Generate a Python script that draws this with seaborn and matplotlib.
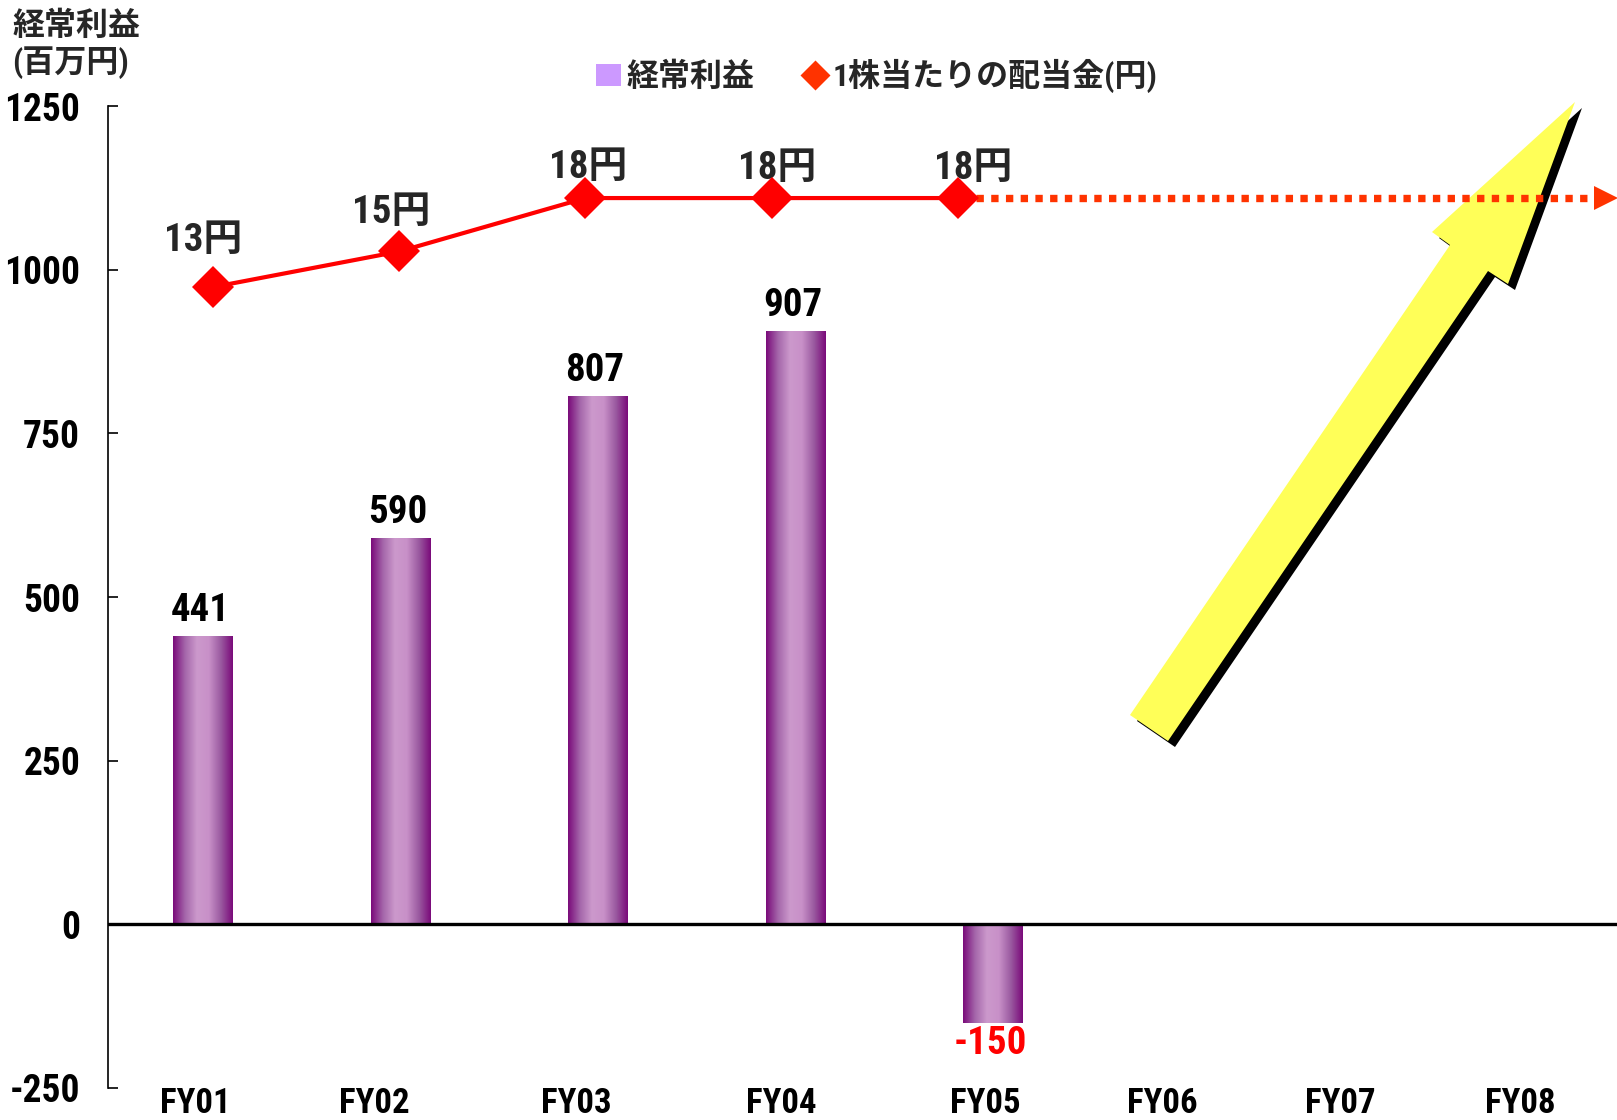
import numpy as np
import pandas as pd
import matplotlib
matplotlib.use('Agg')
import matplotlib.pyplot as plt
import seaborn as sns
from matplotlib import font_manager as fm
from matplotlib.colors import LinearSegmentedColormap
from matplotlib.patches import Polygon, Patch
from matplotlib.lines import Line2D

# data
years = ['FY01', 'FY02', 'FY03', 'FY04', 'FY05', 'FY06', 'FY07', 'FY08']
profit = [441, 590, 807, 907, -150]          # 経常利益 (百万円)
dividend = [13, 15, 18, 18, 18]              # 1株当たりの配当金 (円)
profit_ticks = [-250, 0, 250, 500, 750, 1000, 1250]

sns.set_theme(style='white')

# narrow latin font if one is installed, CJK font for the kanji
installed = {f.name for f in fm.fontManager.ttflist}
narrow = [n for n in ['Liberation Sans Narrow', 'Roboto Condensed',
                      'DejaVu Sans Condensed', 'Open Sans Condensed']
          if n in installed]
FONT = narrow[:1] + ['Noto Sans CJK JP', 'DejaVu Sans']
plt.rcParams['font.family'] = FONT
plt.rcParams['font.weight'] = 'bold'

W, H = 1617, 1120
fig = plt.figure(figsize=(W / 100, H / 100), dpi=100)
rect = [108 / W, 32 / H, 1509 / W, 982 / H]
ax = fig.add_axes(rect)

# --- bars ---
df = pd.DataFrame({'year': years[:len(profit)], 'profit': profit})
sns.barplot(data=df, x='year', y='profit', order=years, width=0.30,
            color='#B07AB8', saturation=1, ax=ax, zorder=2)

bar_cmap = LinearSegmentedColormap.from_list(
    'bar', ['#7A0A7A', '#A466AA', '#CC99CC', '#C890C8', '#9A5AA0', '#7A0A7A'])
grad = np.linspace(0, 1, 256).reshape(1, -1)
for p in ax.patches:
    x0, y0, w, h = p.get_x(), p.get_y(), p.get_width(), p.get_height()
    im = ax.imshow(grad, cmap=bar_cmap, aspect='auto',
                   extent=[x0, x0 + w, y0, y0 + h], zorder=2)
    im.set_clip_path(p)
    p.set_facecolor('none')
    p.set_edgecolor('none')

ax.axhline(0, color='black', lw=2.4, zorder=3)

for i, v in enumerate(profit):
    ax.annotate(f'{v}', xy=(i, v), xytext=(-3, 7 if v >= 0 else -2),
                textcoords='offset pixels', ha='center',
                va='bottom' if v >= 0 else 'top', fontsize=28,
                fontweight='bold', color='black' if v >= 0 else '#FF0000')

ax.set_xlim(-0.48, 7.16)
ax.set_ylim(-250, 1250)
ax.set_yticks(profit_ticks)
ax.set_yticklabels([str(t) for t in profit_ticks])
label_pos = [-0.04, 0.87, 1.89, 2.93, 3.96, 4.86, 5.76, 6.67]
ax.set_xticks(label_pos)
ax.set_xticklabels(years)
ax.set_xlabel('')
ax.set_ylabel('')
for s in ['top', 'right', 'bottom']:
    ax.spines[s].set_visible(False)
ax.spines['left'].set_color('black')
ax.spines['left'].set_linewidth(1.2)
ax.tick_params(axis='y', direction='in', length=7, width=1.2, color='black',
               labelsize=27, pad=20, left=True)
ax.tick_params(axis='x', length=0, labelsize=25, pad=-1)
for lab in ax.get_xticklabels() + ax.get_yticklabels():
    lab.set_fontweight('bold')
    lab.set_color('black')

# --- dividend line on its own hidden axes ---
ax2 = fig.add_axes(rect, label='dividend')
ax2.set_axis_off()
ax2.patch.set_alpha(0)
ax2.set_xlim(-0.564, 7.54)
ax2.set_ylim(-31.98, 23.17)

sns.lineplot(x=list(range(len(dividend))), y=dividend, ax=ax2, color='#FF0000',
             lw=3, marker='D', markersize=21, markeredgewidth=0, zorder=4)

div_offsets = [(-10, 47), (-8, 39), (3, 31), (5, 30), (15, 30)]
for i, (v, off) in enumerate(zip(dividend, div_offsets)):
    ax2.annotate(f'{v}円', xy=(i, v), xytext=off, textcoords='offset pixels',
                 ha='center', va='center', fontsize=28, fontweight='bold')

# projection beyond FY05
last = len(dividend) - 1
ax2.plot([last + 0.098, 7.422], [dividend[-1]] * 2, color='#FF3300', lw=5.3,
         ls=(0, (1, 1)), dash_capstyle='butt', clip_on=False, zorder=3)
ax2.plot([7.481], [dividend[-1]], marker='>', color='#FF3300', markersize=17,
         markeredgewidth=0, clip_on=False, zorder=3)

# big yellow growth arrow (decoration, figure pixels)
arrow_px = [(1130, 715), (1450, 245), (1432, 232), (1575, 102),
            (1508, 284), (1488, 271), (1168, 741)]
shadow = Polygon([((x + 7) / W, 1 - (y + 6) / H) for x, y in arrow_px],
                 closed=True, transform=fig.transFigure, facecolor='black',
                 edgecolor='none', zorder=1, clip_on=False)
arrow = Polygon([(x / W, 1 - y / H) for x, y in arrow_px], closed=True,
                transform=fig.transFigure, facecolor='#FFFF58',
                edgecolor='none', zorder=2, clip_on=False)
ax2.add_artist(shadow)
ax2.add_artist(arrow)

# legend and axis title
handles = [Patch(facecolor='#CC99FF', edgecolor='none', label='経常利益'),
           Line2D([], [], color='none', marker='D', markerfacecolor='#FF3300',
                  markeredgecolor='none', markersize=15,
                  label='1株当たりの配当金(円)')]
fig.legend(handles=handles, ncol=2, loc='center', bbox_to_anchor=(0.542, 0.932),
           frameon=False, prop={'size': 23, 'weight': 'bold'},
           handlelength=0.8, handletextpad=0.15, columnspacing=1.5)

fig.text(12 / W, 1 - 11 / H, '経常利益\n(百万円)', ha='left', va='top',
         fontsize=23, fontweight='bold', linespacing=1.2)

fig.savefig('out.png', dpi=100)
